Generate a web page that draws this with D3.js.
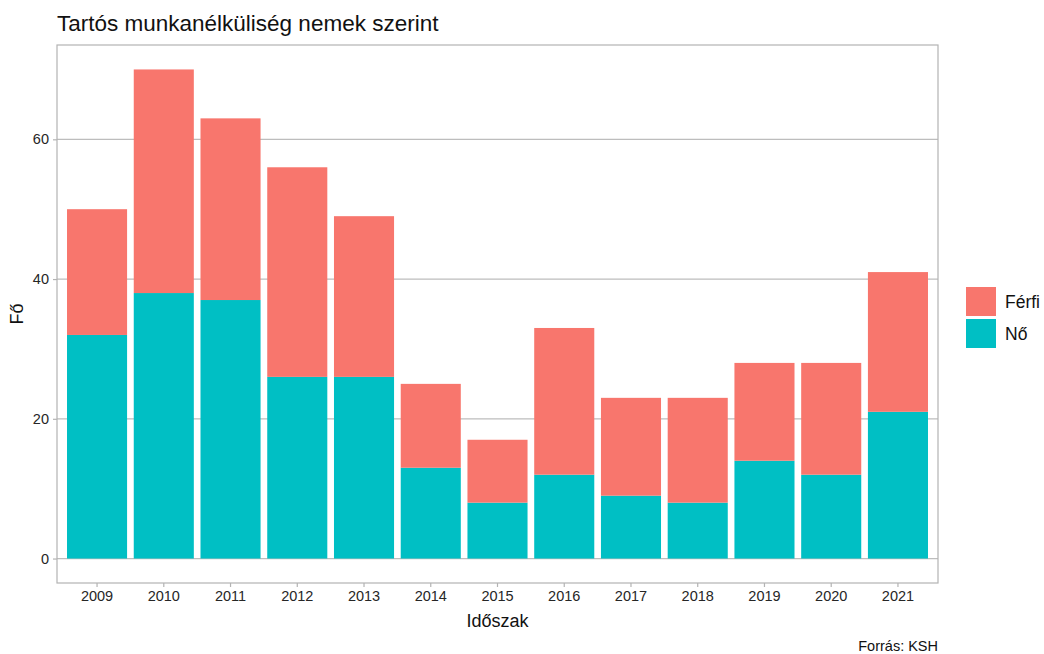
<!DOCTYPE html>
<html>
<head>
<meta charset="utf-8">
<script src="https://cdn.jsdelivr.net/npm/d3@7"></script>
<style>
  body { margin: 0; background: #fff; }
  text { font-family: "Liberation Sans", Arial, sans-serif; }
</style>
</head>
<body>
<div id="chart"></div>
<script>
var W = 1044, H = 654;
var margin = {top: 45, right: 106, bottom: 71, left: 57};
var width = W - margin.left - margin.right,
	height = H - margin.top - margin.bottom;

// Data
var years = ["2009","2010","2011","2012","2013","2014","2015","2016","2017","2018","2019","2020","2021"];
var no =    [32, 38, 37, 26, 26, 13, 8, 12, 9, 8, 14, 12, 21];
var ferfi = [18, 32, 26, 30, 23, 12, 9, 21, 14, 15, 14, 16, 20];
var yTicks = [0, 20, 40, 60];
var groups = ["Férfi", "Nő"];
var colors = {"Férfi": "#F8766D", "Nő": "#00BFC4"};

var svg = d3.select("#chart").append("svg")
	.attr("width", W)
	.attr("height", H);

var g = svg.append("g")
	.attr("transform", "translate(" + margin.left + "," + margin.top + ")");

// ggplot-style discrete expansion: 0.6 of a step on each side, bar width 0.9
var x = d3.scaleBand()
	.domain(years)
	.range([0, width])
	.paddingInner(0.1)
	.paddingOuter(0.15);

var y = d3.scaleLinear()
	.domain([-3.5, 73.5])
	.range([height, 0]);

// gridlines
g.selectAll(".grid")
	.data(yTicks)
	.enter().append("line")
	.attr("x1", 0).attr("x2", width)
	.attr("y1", d => y(d)).attr("y2", d => y(d))
	.attr("stroke", "#bdbdbd")
	.attr("stroke-width", 1.2);

// stacked bars
var rows = years.map((yr, i) => ({year: yr, "Nő": no[i], "Férfi": ferfi[i]}));
var stack = d3.stack().keys(["Nő", "Férfi"])(rows);

g.selectAll(".layer")
	.data(stack)
	.enter().append("g")
	.attr("fill", d => colors[d.key])
	.selectAll("rect")
	.data(d => d)
	.enter().append("rect")
	.attr("x", d => x(d.data.year))
	.attr("width", x.bandwidth())
	.attr("y", d => y(d[1]))
	.attr("height", d => y(d[0]) - y(d[1]));

// panel border
g.append("rect")
	.attr("width", width).attr("height", height)
	.attr("fill", "none")
	.attr("stroke", "#b3b3b3")
	.attr("stroke-width", 1.2);

// axes
var xAxis = g.append("g")
	.attr("transform", "translate(0," + height + ")")
	.call(d3.axisBottom(x).tickSize(4).tickPadding(4));
var yAxis = g.append("g")
	.call(d3.axisLeft(y).tickValues(yTicks).tickSize(4).tickPadding(4));

[xAxis, yAxis].forEach(function(a) {
	a.select(".domain").remove();
	a.selectAll(".tick line").attr("stroke", "#b3b3b3").attr("stroke-width", 1.2);
	a.selectAll(".tick text")
		.attr("fill", "#262626")
		.style("font-size", "14.5px")
		.style("font-family", "'Liberation Sans', Arial, sans-serif");
});

// titles
svg.append("text")
	.attr("x", 57).attr("y", 31)
	.attr("fill", "#111")
	.style("font-size", "22.5px")
	.text("Tartós munkanélküliség nemek szerint");

svg.append("text")
	.attr("x", margin.left + width / 2).attr("y", 627)
	.attr("text-anchor", "middle")
	.attr("fill", "#111")
	.style("font-size", "18px")
	.text("Időszak");

svg.append("text")
	.attr("transform", "translate(23," + (margin.top + y(35)) + ") rotate(-90)")
	.attr("text-anchor", "middle")
	.attr("fill", "#111")
	.style("font-size", "18px")
	.text("Fő");

svg.append("text")
	.attr("x", margin.left + width).attr("y", 651)
	.attr("text-anchor", "end")
	.attr("fill", "#111")
	.style("font-size", "14.5px")
	.text("Forrás: KSH");

// legend
var legend = svg.append("g").attr("transform", "translate(966,287)");
groups.forEach(function(k, i) {
	legend.append("rect")
		.attr("x", 0).attr("y", i * 32)
		.attr("width", 30).attr("height", 29)
		.attr("fill", colors[k]);
	legend.append("text")
		.attr("x", 39).attr("y", i * 32 + 21)
		.attr("fill", "#111")
		.style("font-size", "17.5px")
		.text(k);
});
</script>
</body>
</html>
